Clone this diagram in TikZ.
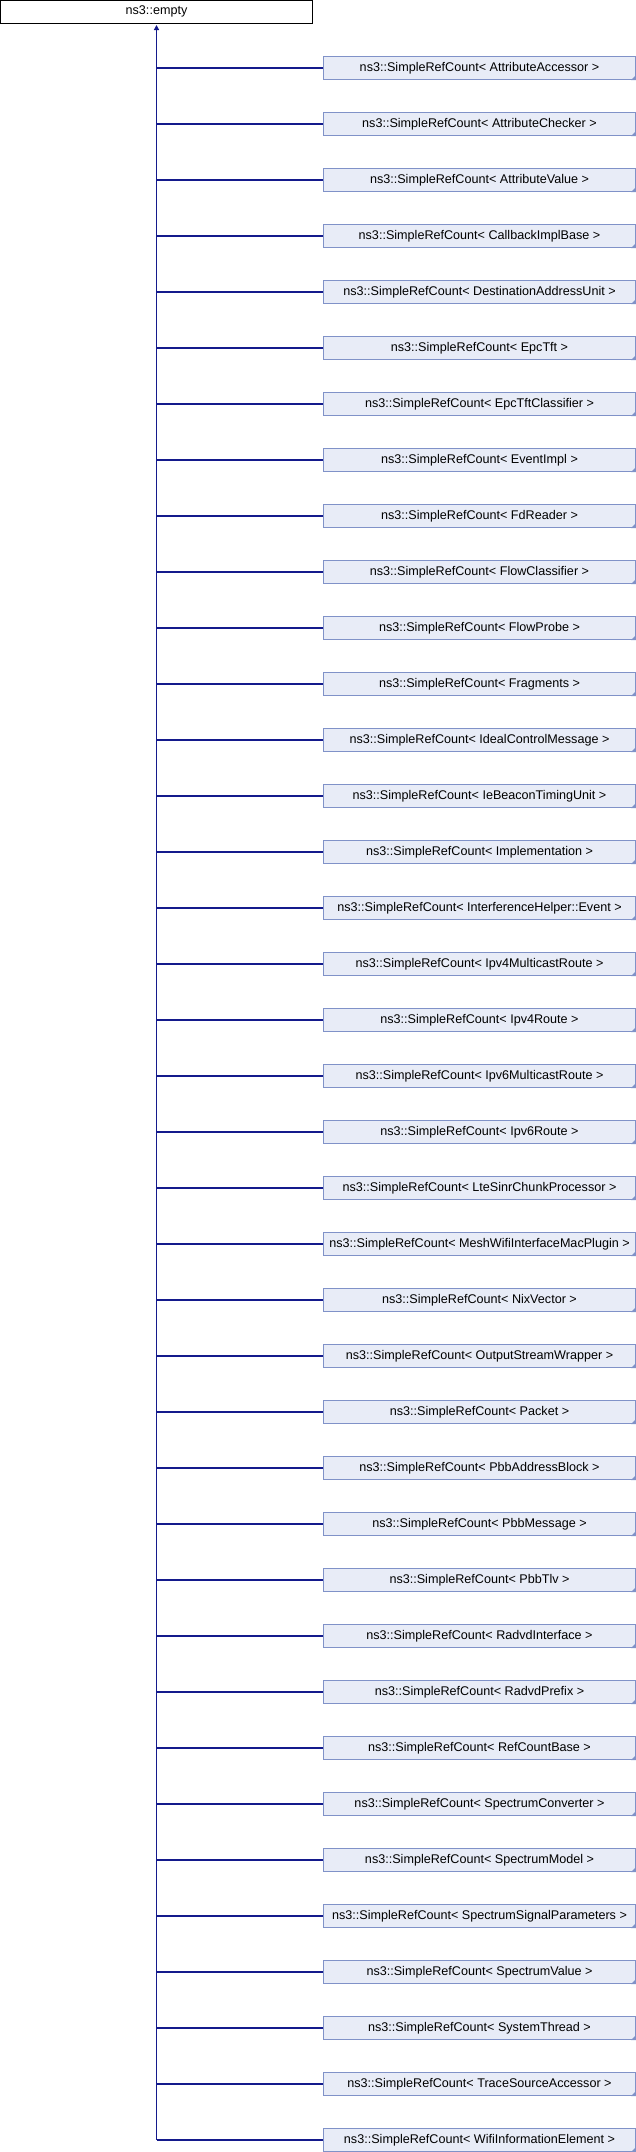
\documentclass[tikz,border=0pt]{standalone}
\usepackage{fontspec}
\setmainfont{Liberation Sans}
\usetikzlibrary{arrows.meta}
\definecolor{edgeblue}{RGB}{20,26,140}
\definecolor{boxfill}{RGB}{232,236,247}
\definecolor{boxdraw}{RGB}{128,146,200}
\tikzset{
  basebox/.style={draw=black, fill=white, line width=1pt, inner sep=0pt,
    minimum width=312pt, minimum height=22.5pt, font=\fontsize{12.6}{14}\selectfont},
  childbox/.style={draw=boxdraw, fill=boxfill, line width=1pt, inner sep=0pt,
    minimum width=312pt, minimum height=23pt, font=\fontsize{12.6}{14}\selectfont},
  edge/.style={draw=edgeblue, line width=1.2pt},
  inherit/.style={edge, -{Triangle[width=5pt,length=5pt]}},
}
\begin{document}
\begin{tikzpicture}[x=1pt,y=-1pt]
\useasboundingbox (0,0) rectangle (636,2152);
\fill[white] (0,0) rectangle (636,2152);
\node[basebox] (base) at (156.5,11.75) {ns3::empty};
\coordinate (tip) at (156.5,25);
\foreach \name [count=\i from 0] in {
  AttributeAccessor, AttributeChecker, AttributeValue, CallbackImplBase,
  DestinationAddressUnit, EpcTft, EpcTftClassifier, EventImpl, FdReader,
  FlowClassifier, FlowProbe, Fragments, IdealControlMessage,
  IeBeaconTimingUnit, Implementation, InterferenceHelper::Event,
  Ipv4MulticastRoute, Ipv4Route, Ipv6MulticastRoute, Ipv6Route,
  LteSinrChunkProcessor, MeshWifiInterfaceMacPlugin, NixVector,
  OutputStreamWrapper, Packet, PbbAddressBlock, PbbMessage, PbbTlv,
  RadvdInterface, RadvdPrefix, RefCountBase, SpectrumConverter,
  SpectrumModel, SpectrumSignalParameters, SpectrumValue, SystemThread,
  TraceSourceAccessor, WifiInformationElement} {
  \node[childbox] (c\i) at (479.5,{68+56*\i}) {ns3::SimpleRefCount<\ \name\ >};
  \fill[boxdraw] ([xshift=-5pt]c\i.south east) -- (c\i.south east) -- ([yshift=5pt]c\i.south east) -- cycle;
  \draw[edge] (c\i.west) -- (c\i.west -| base.south);
}
\draw[inherit] (c37.west -| base.south) -- (tip);
\end{tikzpicture}
\end{document}
